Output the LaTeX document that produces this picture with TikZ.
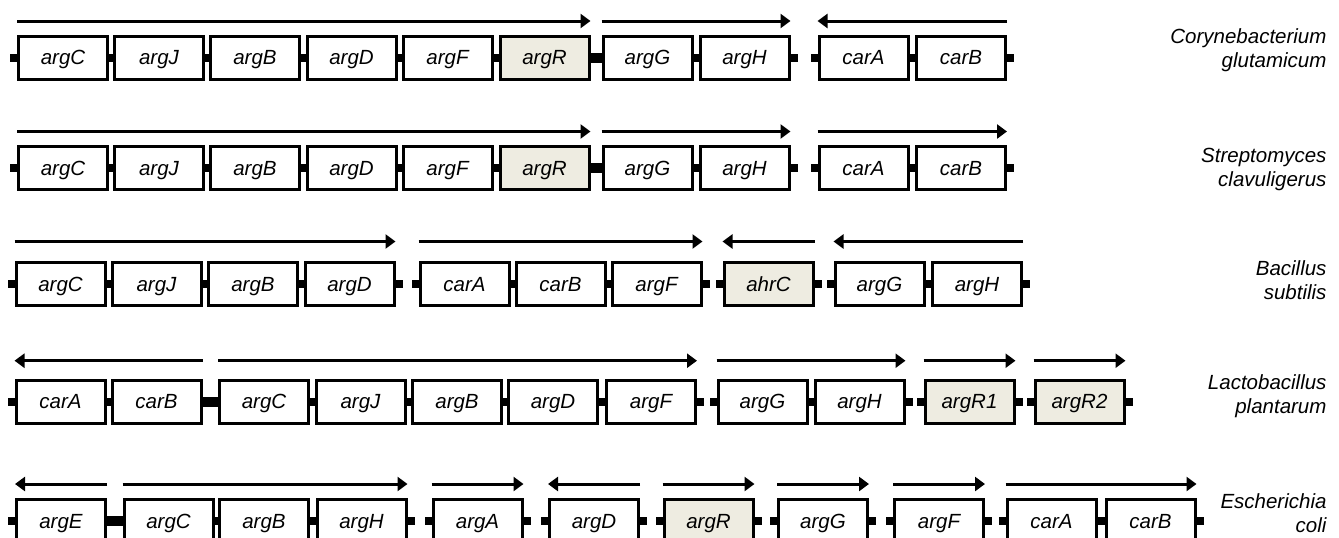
\documentclass[tikz,border=0pt]{standalone}
\usepackage{fontspec}
\setmainfont{Liberation Sans}
\usetikzlibrary{arrows.meta}
\definecolor{regfill}{RGB}{238,236,225}
\tikzset{
  gene/.style={draw, line width=3pt, fill=white, minimum width=89pt, minimum height=43pt, inner sep=0pt, text height=14.7pt, text depth=0pt, font=\fontsize{20.5}{24}\selectfont\itshape},
  reg/.style={gene, fill=regfill},
  link/.style={line width=8pt},
  biglink/.style={line width=10pt},
  operon/.style={line width=3pt, -{Triangle[length=10pt,width=14pt]}},
  species/.style={anchor=east, align=right, font=\fontsize{20.5}{24}\selectfont\itshape}
}

\begin{document}
\begin{tikzpicture}[x=1pt,y=-1pt]
  \useasboundingbox (0,0) rectangle (1339,538);

  % Corynebacterium glutamicum
  \foreach \g/\x/\s [count=\i] in {argC/63/gene, argJ/159/gene, argB/255/gene, argD/351.5/gene, argF/447.5/gene, argR/544.5/reg, argG/647.5/gene, argH/744.5/gene, carA/863.5/gene, carB/961/gene}
    \node[\s] (a\i) at (\x,57.5) {\g};
  \foreach \p/\q in {1/2,2/3,3/4,4/5,5/6,7/8,9/10}
    \draw[link] (a\p.east) -- (a\q.west);
  \draw[biglink] (a6.east) -- (a7.west);
  \foreach \n in {a1,a9} \draw[link] (\n.west) -- +(-7,0);
  \foreach \n in {a8,a10} \draw[link] (\n.east) -- +(7,0);
  \draw[operon] ([yshift=13.5pt]a1.north west) -- ([yshift=13.5pt]a6.north east);
  \draw[operon] ([yshift=13.5pt]a7.north west) -- ([yshift=13.5pt]a8.north east);
  \draw[operon] ([yshift=13.5pt]a10.north east) -- ([yshift=13.5pt]a9.north west);
  \node[species] (sp1) at (1330,50.5) {Corynebacterium\\glutamicum};

  % Streptomyces clavuligerus
  \foreach \g/\x/\s [count=\i] in {argC/63/gene, argJ/159/gene, argB/255/gene, argD/351.5/gene, argF/447.5/gene, argR/544.5/reg, argG/647.5/gene, argH/744.5/gene, carA/863.5/gene, carB/961/gene}
    \node[\s] (b\i) at (\x,168) {\g};
  \foreach \p/\q in {1/2,2/3,3/4,4/5,5/6,7/8,9/10}
    \draw[link] (b\p.east) -- (b\q.west);
  \draw[biglink] (b6.east) -- (b7.west);
  \foreach \n in {b1,b9} \draw[link] (\n.west) -- +(-7,0);
  \foreach \n in {b8,b10} \draw[link] (\n.east) -- +(7,0);
  \draw[operon] ([yshift=13.5pt]b1.north west) -- ([yshift=13.5pt]b6.north east);
  \draw[operon] ([yshift=13.5pt]b7.north west) -- ([yshift=13.5pt]b8.north east);
  \draw[operon] ([yshift=13.5pt]b9.north west) -- ([yshift=13.5pt]b10.north east);
  \node[species] (sp2) at (1330,169) {Streptomyces\\clavuligerus};

  % Bacillus subtilis
  \foreach \g/\x/\s [count=\i] in {argC/60.5/gene, argJ/156.5/gene, argB/253/gene, argD/349.5/gene, carA/464.5/gene, carB/560.5/gene, argF/656.5/gene, ahrC/768.5/reg, argG/879.5/gene, argH/977/gene}
    \node[\s] (c\i) at (\x,284) {\g};
  \foreach \p/\q in {1/2,2/3,3/4,5/6,6/7,9/10}
    \draw[link] (c\p.east) -- (c\q.west);
  \foreach \n in {c1,c5,c8,c9} \draw[link] (\n.west) -- +(-7,0);
  \foreach \n in {c4,c7,c8,c10} \draw[link] (\n.east) -- +(7,0);
  \draw[operon] ([yshift=19.5pt]c1.north west) -- ([yshift=19.5pt]c4.north east);
  \draw[operon] ([yshift=19.5pt]c5.north west) -- ([yshift=19.5pt]c7.north east);
  \draw[operon] ([yshift=19.5pt]c8.north east) -- ([yshift=19.5pt]c8.north west);
  \draw[operon] ([yshift=19.5pt]c10.north east) -- ([yshift=19.5pt]c9.north west);
  \node[species] (sp3) at (1330,280) {Bacillus\\subtilis};

  % Lactobacillus plantarum
  \foreach \g/\x/\s [count=\i] in {carA/60.5/gene, carB/156.5/gene, argC/264/gene, argJ/360.5/gene, argB/457/gene, argD/553/gene, argF/651/gene, argG/762.5/gene, argH/859.5/gene, argR1/969.5/reg, argR2/1079.5/reg}
    \node[\s] (d\i) at (\x,401.5) {\g};
  \foreach \p/\q in {1/2,3/4,4/5,5/6,6/7,8/9}
    \draw[link] (d\p.east) -- (d\q.west);
  \draw[biglink] (d2.east) -- (d3.west);
  \foreach \n in {d1,d8,d10,d11} \draw[link] (\n.west) -- +(-7,0);
  \foreach \n in {d7,d9,d10,d11} \draw[link] (\n.east) -- +(7,0);
  \draw[operon] ([yshift=17.8pt]d2.north east) -- ([yshift=17.8pt]d1.north west);
  \draw[operon] ([yshift=17.8pt]d3.north west) -- ([yshift=17.8pt]d7.north east);
  \draw[operon] ([yshift=17.8pt]d8.north west) -- ([yshift=17.8pt]d9.north east);
  \draw[operon] ([yshift=17.8pt]d10.north west) -- ([yshift=17.8pt]d10.north east);
  \draw[operon] ([yshift=17.8pt]d11.north west) -- ([yshift=17.8pt]d11.north east);
  \node[species] (sp4) at (1330,396) {Lactobacillus\\plantarum};

  % Escherichia coli
  \foreach \g/\x/\s [count=\i] in {argE/61/gene, argC/168.5/gene, argB/264/gene, argH/361.5/gene, argA/477.5/gene, argD/594/gene, argR/708.5/reg, argG/823/gene, argF/939/gene, carA/1051.5/gene, carB/1150.5/gene}
    \node[\s] (e\i) at (\x,521) {\g};
  \foreach \p/\q in {2/3,3/4,10/11}
    \draw[link] (e\p.east) -- (e\q.west);
  \draw[biglink] (e1.east) -- (e2.west);
  \foreach \n in {e1,e5,e6,e7,e8,e9,e10} \draw[link] (\n.west) -- +(-7,0);
  \foreach \n in {e4,e5,e6,e7,e8,e9,e11} \draw[link] (\n.east) -- +(7,0);
  \draw[operon] ([yshift=14pt]e1.north east) -- ([yshift=14pt]e1.north west);
  \draw[operon] ([yshift=14pt]e2.north west) -- ([yshift=14pt]e4.north east);
  \draw[operon] ([yshift=14pt]e5.north west) -- ([yshift=14pt]e5.north east);
  \draw[operon] ([yshift=14pt]e6.north east) -- ([yshift=14pt]e6.north west);
  \draw[operon] ([yshift=14pt]e7.north west) -- ([yshift=14pt]e7.north east);
  \draw[operon] ([yshift=14pt]e8.north west) -- ([yshift=14pt]e8.north east);
  \draw[operon] ([yshift=14pt]e9.north west) -- ([yshift=14pt]e9.north east);
  \draw[operon] ([yshift=14pt]e10.north west) -- ([yshift=14pt]e11.north east);
  \node[species] (sp5) at (1330,513) {Escherichia\\coli};
\end{tikzpicture}
\end{document}
